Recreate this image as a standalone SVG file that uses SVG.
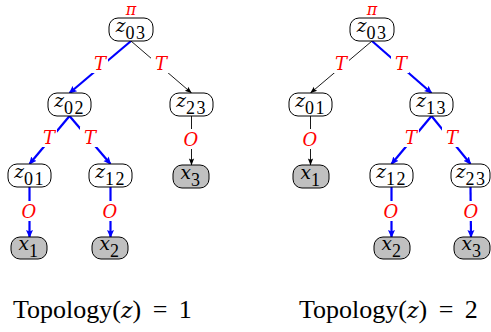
<svg xmlns="http://www.w3.org/2000/svg" width="491" height="332" viewBox="0 0 491 332">
<style>
.nb{fill:#fff;stroke:#000;stroke-width:1}
.gb{fill:#c0c0c0;stroke:#000;stroke-width:1}
.nt{font-family:'Liberation Serif',serif;font-size:18px;fill:#000;text-anchor:middle}
.mi{font-family:'DejaVu Serif',serif;font-style:italic;font-size:18.5px}
.sb{font-family:'Liberation Serif',serif;font-size:18px;letter-spacing:1.5px}
.b{stroke:#0000ff;stroke-width:2.2;fill:none;marker-end:url(#ab)}
.k{stroke:#000;stroke-width:0.9;fill:none;marker-end:url(#ak)}
.lb{fill:#fff;stroke:none}
.lt{font-family:'DejaVu Serif',serif;font-style:italic;font-size:18px;fill:#ff0000;text-anchor:middle}
.cap{font-family:'Liberation Serif',serif;font-size:26px;fill:#000;word-spacing:5px}
.cz{font-family:'DejaVu Serif',serif;font-style:italic;font-size:22px}
</style>
<defs>
<marker id="ab" markerUnits="userSpaceOnUse" viewBox="0 0 8 8" markerWidth="8" markerHeight="8" refX="7" refY="4" orient="auto"><path d="M0,0.5 L8,4 L0,7.5 L1.5,4 z" fill="#0000ff"/></marker>
<marker id="ak" markerUnits="userSpaceOnUse" viewBox="0 0 8 8" markerWidth="7" markerHeight="7" refX="7.5" refY="4" orient="auto"><path d="M0,1 L8,4 L0,7 L1.5,4 z" fill="#000"/></marker>
</defs>

<g id="connectors">
<line class="b" x1="131" y1="41" x2="69.5" y2="93"/>
<line class="k" x1="131" y1="41" x2="191.5" y2="93"/>
<line class="b" x1="69.5" y1="116" x2="29.5" y2="164"/>
<line class="b" x1="69.5" y1="116" x2="110.5" y2="164"/>
<line class="k" x1="191.5" y1="116" x2="191.5" y2="165"/>
<line class="b" x1="29.5" y1="187" x2="29.5" y2="237"/>
<line class="b" x1="110.5" y1="187" x2="110.5" y2="237"/>
<line class="k" x1="372" y1="41" x2="310.5" y2="93"/>
<line class="b" x1="372" y1="41" x2="431.5" y2="93"/>
<line class="k" x1="310.5" y1="116" x2="310.5" y2="165"/>
<line class="b" x1="431.5" y1="116" x2="391.5" y2="164"/>
<line class="b" x1="431.5" y1="116" x2="470.5" y2="164"/>
<line class="b" x1="391.5" y1="187" x2="391.5" y2="237"/>
<line class="b" x1="470.5" y1="187" x2="471" y2="237"/>
<g>
<rect class="lb" x="90" y="53" width="18" height="20"/><text class="lt" x="100" y="70">T</text>
<rect class="lb" x="151" y="53" width="18" height="20"/><text class="lt" x="161" y="70">T</text>
<rect class="lb" x="39" y="127" width="18" height="20"/><text class="lt" x="49" y="144">T</text>
<rect class="lb" x="80" y="127" width="18" height="20"/><text class="lt" x="90" y="144">T</text>
<rect class="lb" x="182" y="129" width="18" height="20"/><text class="lt" x="191" y="146">O</text>
<rect class="lb" x="20" y="201" width="18" height="20"/><text class="lt" x="29" y="218">O</text>
<rect class="lb" x="101" y="201" width="18" height="20"/><text class="lt" x="110" y="218">O</text>
<rect class="lb" x="331" y="53" width="18" height="20"/><text class="lt" x="341" y="70">T</text>
<rect class="lb" x="391" y="53" width="18" height="20"/><text class="lt" x="401" y="70">T</text>
<rect class="lb" x="301" y="129" width="18" height="20"/><text class="lt" x="310" y="146">O</text>
<rect class="lb" x="401" y="127" width="18" height="20"/><text class="lt" x="411" y="144">T</text>
<rect class="lb" x="442" y="127" width="18" height="20"/><text class="lt" x="452" y="144">T</text>
<rect class="lb" x="382" y="201" width="18" height="20"/><text class="lt" x="391" y="218">O</text>
<rect class="lb" x="462" y="201" width="18" height="20"/><text class="lt" x="471" y="218">O</text>
</g>
<text class="lt" x="131" y="15" style="font-size:16px">π</text>
<text class="lt" x="372" y="15" style="font-size:16px">π</text>
</g>

<g id="L_z03"><rect class="nb" x="109" y="18" width="44" height="23" rx="9"/><text class="nt" x="131" y="31.5"><tspan class="mi">z</tspan><tspan class="sb" dy="7">03</tspan></text></g>
<g id="L_z02"><rect class="nb" x="48" y="93" width="43" height="23" rx="9"/><text class="nt" x="69.5" y="106.5"><tspan class="mi">z</tspan><tspan class="sb" dy="7">02</tspan></text></g>
<g id="L_z23"><rect class="nb" x="170" y="93" width="43" height="23" rx="9"/><text class="nt" x="191.5" y="106.5"><tspan class="mi">z</tspan><tspan class="sb" dy="7">23</tspan></text></g>
<g id="L_z01"><rect class="nb" x="8" y="164" width="43" height="23" rx="9"/><text class="nt" x="29.5" y="177.5"><tspan class="mi">z</tspan><tspan class="sb" dy="7">01</tspan></text></g>
<g id="L_z12"><rect class="nb" x="89" y="164" width="43" height="23" rx="9"/><text class="nt" x="110.5" y="177.5"><tspan class="mi">z</tspan><tspan class="sb" dy="7">12</tspan></text></g>
<g id="L_x3"><rect class="gb" x="173" y="165" width="36" height="23" rx="9"/><text class="nt" x="191" y="178.5"><tspan class="mi">x</tspan><tspan class="sb" dy="7">3</tspan></text></g>
<g id="L_x1"><rect class="gb" x="11" y="237" width="36" height="22" rx="9"/><text class="nt" x="29" y="250"><tspan class="mi">x</tspan><tspan class="sb" dy="7">1</tspan></text></g>
<g id="L_x2"><rect class="gb" x="92" y="237" width="36" height="22" rx="9"/><text class="nt" x="110" y="250"><tspan class="mi">x</tspan><tspan class="sb" dy="7">2</tspan></text></g>

<g id="R_z03"><rect class="nb" x="350" y="18" width="44" height="23" rx="9"/><text class="nt" x="372" y="31.5"><tspan class="mi">z</tspan><tspan class="sb" dy="7">03</tspan></text></g>
<g id="R_z01"><rect class="nb" x="289" y="93" width="43" height="23" rx="9"/><text class="nt" x="310.5" y="106.5"><tspan class="mi">z</tspan><tspan class="sb" dy="7">01</tspan></text></g>
<g id="R_z13"><rect class="nb" x="410" y="93" width="43" height="23" rx="9"/><text class="nt" x="431.5" y="106.5"><tspan class="mi">z</tspan><tspan class="sb" dy="7">13</tspan></text></g>
<g id="R_x1"><rect class="gb" x="293" y="165" width="36" height="23" rx="9"/><text class="nt" x="311" y="178.5"><tspan class="mi">x</tspan><tspan class="sb" dy="7">1</tspan></text></g>
<g id="R_z12"><rect class="nb" x="370" y="164" width="43" height="23" rx="9"/><text class="nt" x="391.5" y="177.5"><tspan class="mi">z</tspan><tspan class="sb" dy="7">12</tspan></text></g>
<g id="R_z23"><rect class="nb" x="451" y="164" width="39" height="23" rx="9"/><text class="nt" x="471" y="177.5"><tspan class="mi">z</tspan><tspan class="sb" dy="7">23</tspan></text></g>
<g id="R_x2"><rect class="gb" x="374" y="237" width="36" height="22" rx="9"/><text class="nt" x="392" y="250"><tspan class="mi">x</tspan><tspan class="sb" dy="7">2</tspan></text></g>
<g id="R_x3"><rect class="gb" x="454" y="237" width="36" height="22" rx="9"/><text class="nt" x="472" y="250"><tspan class="mi">x</tspan><tspan class="sb" dy="7">3</tspan></text></g>

<g id="captions">
<text class="cap" x="13" y="318">Topology(<tspan class="cz">z</tspan>) = 1</text>
<text class="cap" x="299" y="318">Topology(<tspan class="cz">z</tspan>) = 2</text>
</g>
</svg>
